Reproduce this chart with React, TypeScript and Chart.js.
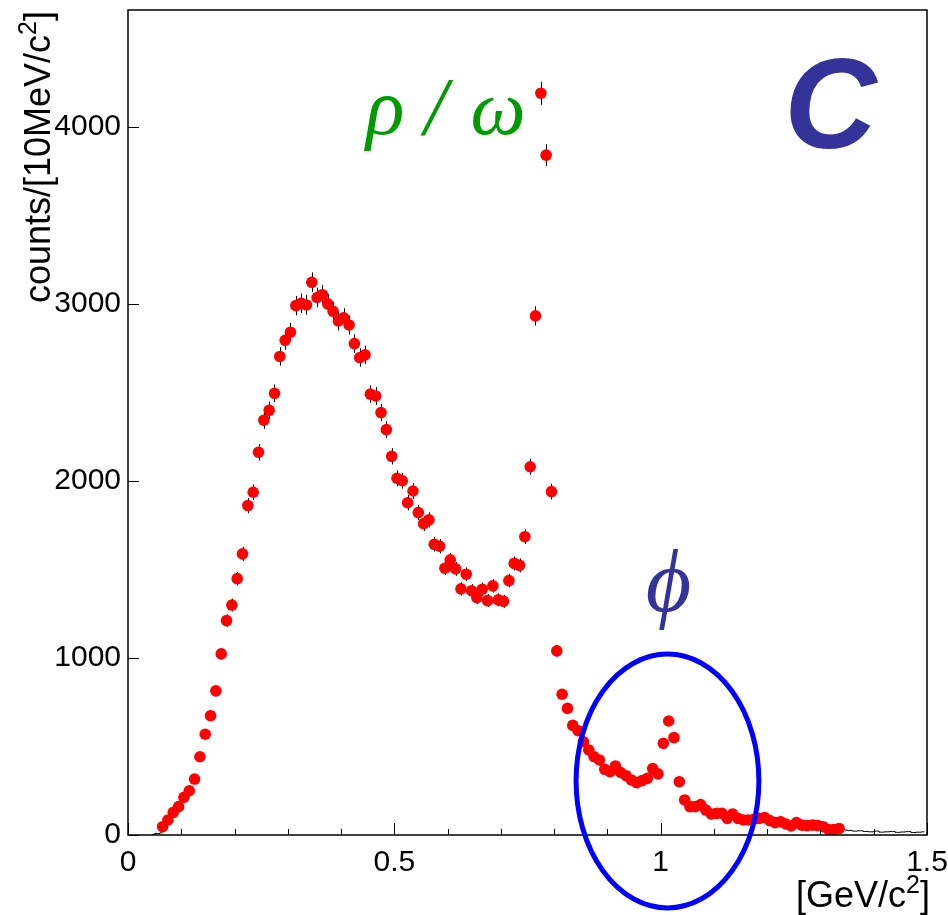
import React, { useEffect, useRef } from "react";
import { Chart, registerables } from "chart.js";

Chart.register(...registerables);

// Invariant-mass bin centres [GeV/c^2] (10 MeV bins)
const massBins = [
  0.065, 0.075, 0.085, 0.095, 0.105, 0.115, 0.125, 0.135, 0.145, 0.155,
  0.165, 0.175, 0.185, 0.195, 0.205, 0.215, 0.225, 0.235, 0.245, 0.255,
  0.265, 0.275, 0.285, 0.295, 0.305, 0.315, 0.325, 0.335, 0.345, 0.355,
  0.365, 0.375, 0.385, 0.395, 0.405, 0.415, 0.425, 0.435, 0.445, 0.455,
  0.465, 0.475, 0.485, 0.495, 0.505, 0.515, 0.525, 0.535, 0.545, 0.555,
  0.565, 0.575, 0.585, 0.595, 0.605, 0.615, 0.625, 0.635, 0.645, 0.655,
  0.665, 0.675, 0.685, 0.695, 0.705, 0.715, 0.725, 0.735, 0.745, 0.755,
  0.765, 0.775, 0.785, 0.795, 0.805, 0.815, 0.825, 0.835, 0.845, 0.855,
  0.865, 0.875, 0.885, 0.895, 0.905, 0.915, 0.925, 0.935, 0.945, 0.955,
  0.965, 0.975, 0.985, 0.995, 1.005, 1.015, 1.025, 1.035, 1.045, 1.055,
  1.065, 1.075, 1.085, 1.095, 1.105, 1.115, 1.125, 1.135, 1.145, 1.155,
  1.165, 1.175, 1.185, 1.195, 1.205, 1.215, 1.225, 1.235, 1.245, 1.255,
  1.265, 1.275, 1.285, 1.295, 1.305, 1.315, 1.325, 1.335,
];

// counts per 10 MeV/c^2 (red points)
const counts = [
  47, 85, 128, 160, 213, 250, 316, 442, 569, 674,
  814, 1023, 1211, 1299, 1448, 1588, 1861, 1936, 2162, 2343,
  2399, 2495, 2703, 2794, 2840, 2990, 3003, 2994, 3122, 3036,
  3052, 3000, 2958, 2904, 2921, 2881, 2776, 2697, 2712, 2490,
  2480, 2386, 2290, 2139, 2015, 2001, 1877, 1943, 1821, 1759,
  1780, 1642, 1631, 1507, 1554, 1503, 1390, 1473, 1380, 1341,
  1388, 1324, 1407, 1328, 1320, 1437, 1534, 1523, 1685, 2080,
  2932, 4190, 3840, 1940, 1040, 795, 715, 619, 589, 527,
  480, 442, 424, 371, 358, 390, 353, 335, 311, 296,
  307, 320, 375, 345, 518, 644, 550, 301, 198, 160,
  160, 172, 141, 119, 122, 122, 94, 119, 94, 85,
  85, 89, 94, 99, 81, 70, 75, 62, 51, 70,
  56, 53, 56, 53, 47, 31, 31, 37,
];

// black histogram outside the red-marker range
const tailBins = [
  1.335, 1.345, 1.355, 1.365, 1.375, 1.385, 1.395, 1.405, 1.415, 1.425,
  1.435, 1.445, 1.455, 1.465, 1.475, 1.485, 1.495,
];
const tailCounts = [30, 28, 25, 22, 24, 20, 18, 22, 16, 18, 20, 15, 17, 19, 14, 16, 18];
const lowBins = [0.045, 0.055, 0.065];
const lowCounts = [3, 9, 12];

const X_TICKS = [0, 0.5, 1, 1.5];
const Y_TICKS = [0, 1000, 2000, 3000, 4000];
const X_MINOR_STEP = 0.1;

const SANS = '"Liberation Sans", Arial, sans-serif';
const SERIF = '"Liberation Serif", "Times New Roman", serif';

// annotations in data coordinates
const RHO_OMEGA = [
  { text: "ρ", x: 0.447, size: 80 },
  { text: "/", x: 0.556, size: 82 },
  { text: "ω", x: 0.643, size: 78 },
];
const RHO_OMEGA_Y = 3960;
const PHI_LABEL = { text: "ϕ", x: 0.972, y: 1266 };
const PANEL_LABEL = { text: "C", x: 1.232, y: 3881 };
const PHI_ELLIPSE = { cx: 1.0128, cy: 305, rx: 0.1716, ry: 717 };

const zeroPad = (s: any) => {
  s.paddingTop = 0;
  s.paddingBottom = 0;
  s.paddingLeft = 0;
  s.paddingRight = 0;
};

const decor = {
  id: "decor",
  beforeDatasetsDraw(chart: any) {
    const { ctx, chartArea: a } = chart;
    const x = chart.scales.x;
    const y = chart.scales.y;
    ctx.save();
    ctx.beginPath();
    ctx.rect(a.left, a.top, a.right - a.left, a.bottom - a.top);
    ctx.clip();
    ctx.strokeStyle = "#000";
    ctx.lineWidth = 1;
    massBins.forEach((m, i) => {
      const c = counts[i];
      const e = Math.sqrt(c);
      const px = Math.round(x.getPixelForValue(m)) + 0.5;
      ctx.beginPath();
      ctx.moveTo(px, y.getPixelForValue(c + e));
      ctx.lineTo(px, y.getPixelForValue(c - e));
      ctx.stroke();
    });
    ctx.restore();
  },
  afterDraw(chart: any) {
    const { ctx, chartArea: a } = chart;
    const x = chart.scales.x;
    const y = chart.scales.y;
    ctx.save();
    // frame
    ctx.strokeStyle = "#000";
    ctx.lineWidth = 1.5;
    ctx.strokeRect(a.left, a.top, a.right - a.left, a.bottom - a.top);
    // ticks
    ctx.lineWidth = 1;
    Y_TICKS.forEach((v) => {
      const py = Math.round(y.getPixelForValue(v)) + 0.5;
      ctx.beginPath();
      ctx.moveTo(a.left, py);
      ctx.lineTo(a.left + 11, py);
      ctx.stroke();
    });
    const nMinor = Math.round(1.5 / X_MINOR_STEP);
    for (let k = 0; k <= nMinor; k++) {
      const v = k * X_MINOR_STEP;
      const major = X_TICKS.some((t) => Math.abs(t - v) < 1e-6);
      const px = Math.round(x.getPixelForValue(v)) + 0.5;
      ctx.beginPath();
      ctx.moveTo(px, a.bottom);
      ctx.lineTo(px, a.bottom - (major ? 12 : 6));
      ctx.stroke();
    }
    // axis titles
    ctx.fillStyle = "#000";
    ctx.textBaseline = "alphabetic";
    ctx.textAlign = "left";
    const big = `36px ${SANS}`;
    const sup = `25px ${SANS}`;
    // x title, right aligned
    ctx.font = big;
    const xa = "[GeV/c";
    const xb = "]";
    const wA = ctx.measureText(xa).width;
    const wB = ctx.measureText(xb).width;
    ctx.font = sup;
    const wS = ctx.measureText("2").width;
    const xs = 930 - (wA + wS + wB);
    const xBase = 907;
    ctx.font = big;
    ctx.fillText(xa, xs, xBase);
    ctx.font = sup;
    ctx.fillText("2", xs + wA, xBase - 14);
    ctx.font = big;
    ctx.fillText(xb, xs + wA + wS, xBase);
    // y title, rotated, ending at top
    ctx.save();
    ctx.translate(50, 11);
    ctx.rotate(-Math.PI / 2);
    ctx.font = big;
    const ya = "counts/[10MeV/c";
    const yA = ctx.measureText(ya).width;
    const yB = ctx.measureText("]").width;
    ctx.font = sup;
    const yS = ctx.measureText("2").width;
    const start = -(yA + yS + yB);
    ctx.font = big;
    ctx.fillText(ya, start, 0);
    ctx.font = sup;
    ctx.fillText("2", start + yA, -14);
    ctx.font = big;
    ctx.fillText("]", start + yA + yS, 0);
    ctx.restore();

    // rho / omega
    ctx.fillStyle = "#009900";
    RHO_OMEGA.forEach((p) => {
      ctx.font = `italic ${p.size}px ${SERIF}`;
      ctx.fillText(p.text, x.getPixelForValue(p.x), y.getPixelForValue(RHO_OMEGA_Y));
    });
    // phi
    ctx.fillStyle = "#333399";
    ctx.font = `italic 88px ${SERIF}`;
    ctx.fillText(PHI_LABEL.text, x.getPixelForValue(PHI_LABEL.x), y.getPixelForValue(PHI_LABEL.y));
    // panel label
    ctx.font = `italic bold 128px ${SANS}`;
    ctx.fillText(PANEL_LABEL.text, x.getPixelForValue(PANEL_LABEL.x), y.getPixelForValue(PANEL_LABEL.y));

    // ellipse around phi
    const cx = x.getPixelForValue(PHI_ELLIPSE.cx);
    const cy = y.getPixelForValue(PHI_ELLIPSE.cy);
    const rx = x.getPixelForValue(PHI_ELLIPSE.cx + PHI_ELLIPSE.rx) - cx;
    const ry = cy - y.getPixelForValue(PHI_ELLIPSE.cy + PHI_ELLIPSE.ry);
    ctx.strokeStyle = "#0000ff";
    ctx.lineWidth = 5;
    ctx.beginPath();
    ctx.ellipse(cx, cy, rx, ry, 0, 0, Math.PI * 2);
    ctx.stroke();
    ctx.restore();
  },
};

export default function App() {
  const ref = useRef<HTMLCanvasElement>(null);
  useEffect(() => {
    const canvas = ref.current;
    if (!canvas) return;
    const chart = new Chart(canvas, {
      type: "scatter",
      data: {
        datasets: [
          {
            label: "data",
            data: massBins.map((m, i) => ({ x: m, y: counts[i] })),
            pointRadius: 5.8,
            pointBackgroundColor: "#ff0000",
            pointBorderColor: "#ff0000",
            pointBorderWidth: 0,
            showLine: false,
            order: 0,
          },
          {
            label: "tail",
            data: tailBins.map((m, i) => ({ x: m, y: tailCounts[i] })),
            showLine: true,
            stepped: "middle",
            borderColor: "#000",
            borderWidth: 1,
            pointRadius: 0,
            order: 1,
          },
          {
            label: "low",
            data: lowBins.map((m, i) => ({ x: m, y: lowCounts[i] })),
            showLine: true,
            stepped: "middle",
            borderColor: "#000",
            borderWidth: 1,
            pointRadius: 0,
            order: 1,
          },
        ],
      },
      options: {
        responsive: false,
        animation: false,
        devicePixelRatio: 1,
        layout: { padding: { left: 0, right: 21, top: 10, bottom: 0 } },
        plugins: { legend: { display: false }, tooltip: { enabled: false } },
        scales: {
          x: {
            type: "linear",
            min: 0,
            max: 1.5,
            afterFit: (s: any) => {
              s.height = 80;
              zeroPad(s);
            },
            afterBuildTicks: (s: any) => {
              s.ticks = X_TICKS.map((v) => ({ value: v }));
            },
            ticks: {
              callback: (v: any) => String(v),
              font: { family: SANS, size: 30 },
              color: "#000",
              padding: 10,
              maxRotation: 0,
              autoSkip: false,
            },
            grid: { display: false, drawTicks: false },
            border: { display: false },
          },
          y: {
            type: "linear",
            min: 0,
            max: 4660,
            afterFit: (s: any) => {
              s.width = 128;
              zeroPad(s);
            },
            afterBuildTicks: (s: any) => {
              s.ticks = Y_TICKS.map((v) => ({ value: v }));
            },
            ticks: {
              callback: (v: any) => String(v),
              font: { family: SANS, size: 30 },
              color: "#000",
              padding: 7,
            },
            grid: { display: false, drawTicks: false },
            border: { display: false },
          },
        },
      },
      plugins: [decor],
    });
    return () => chart.destroy();
  }, []);
  return (
    <div style={{ position: "absolute", left: 0, top: 0, width: 948, height: 915, background: "#fff" }}>
      <canvas ref={ref} width={948} height={915} style={{ display: "block" }} />
    </div>
  );
}
